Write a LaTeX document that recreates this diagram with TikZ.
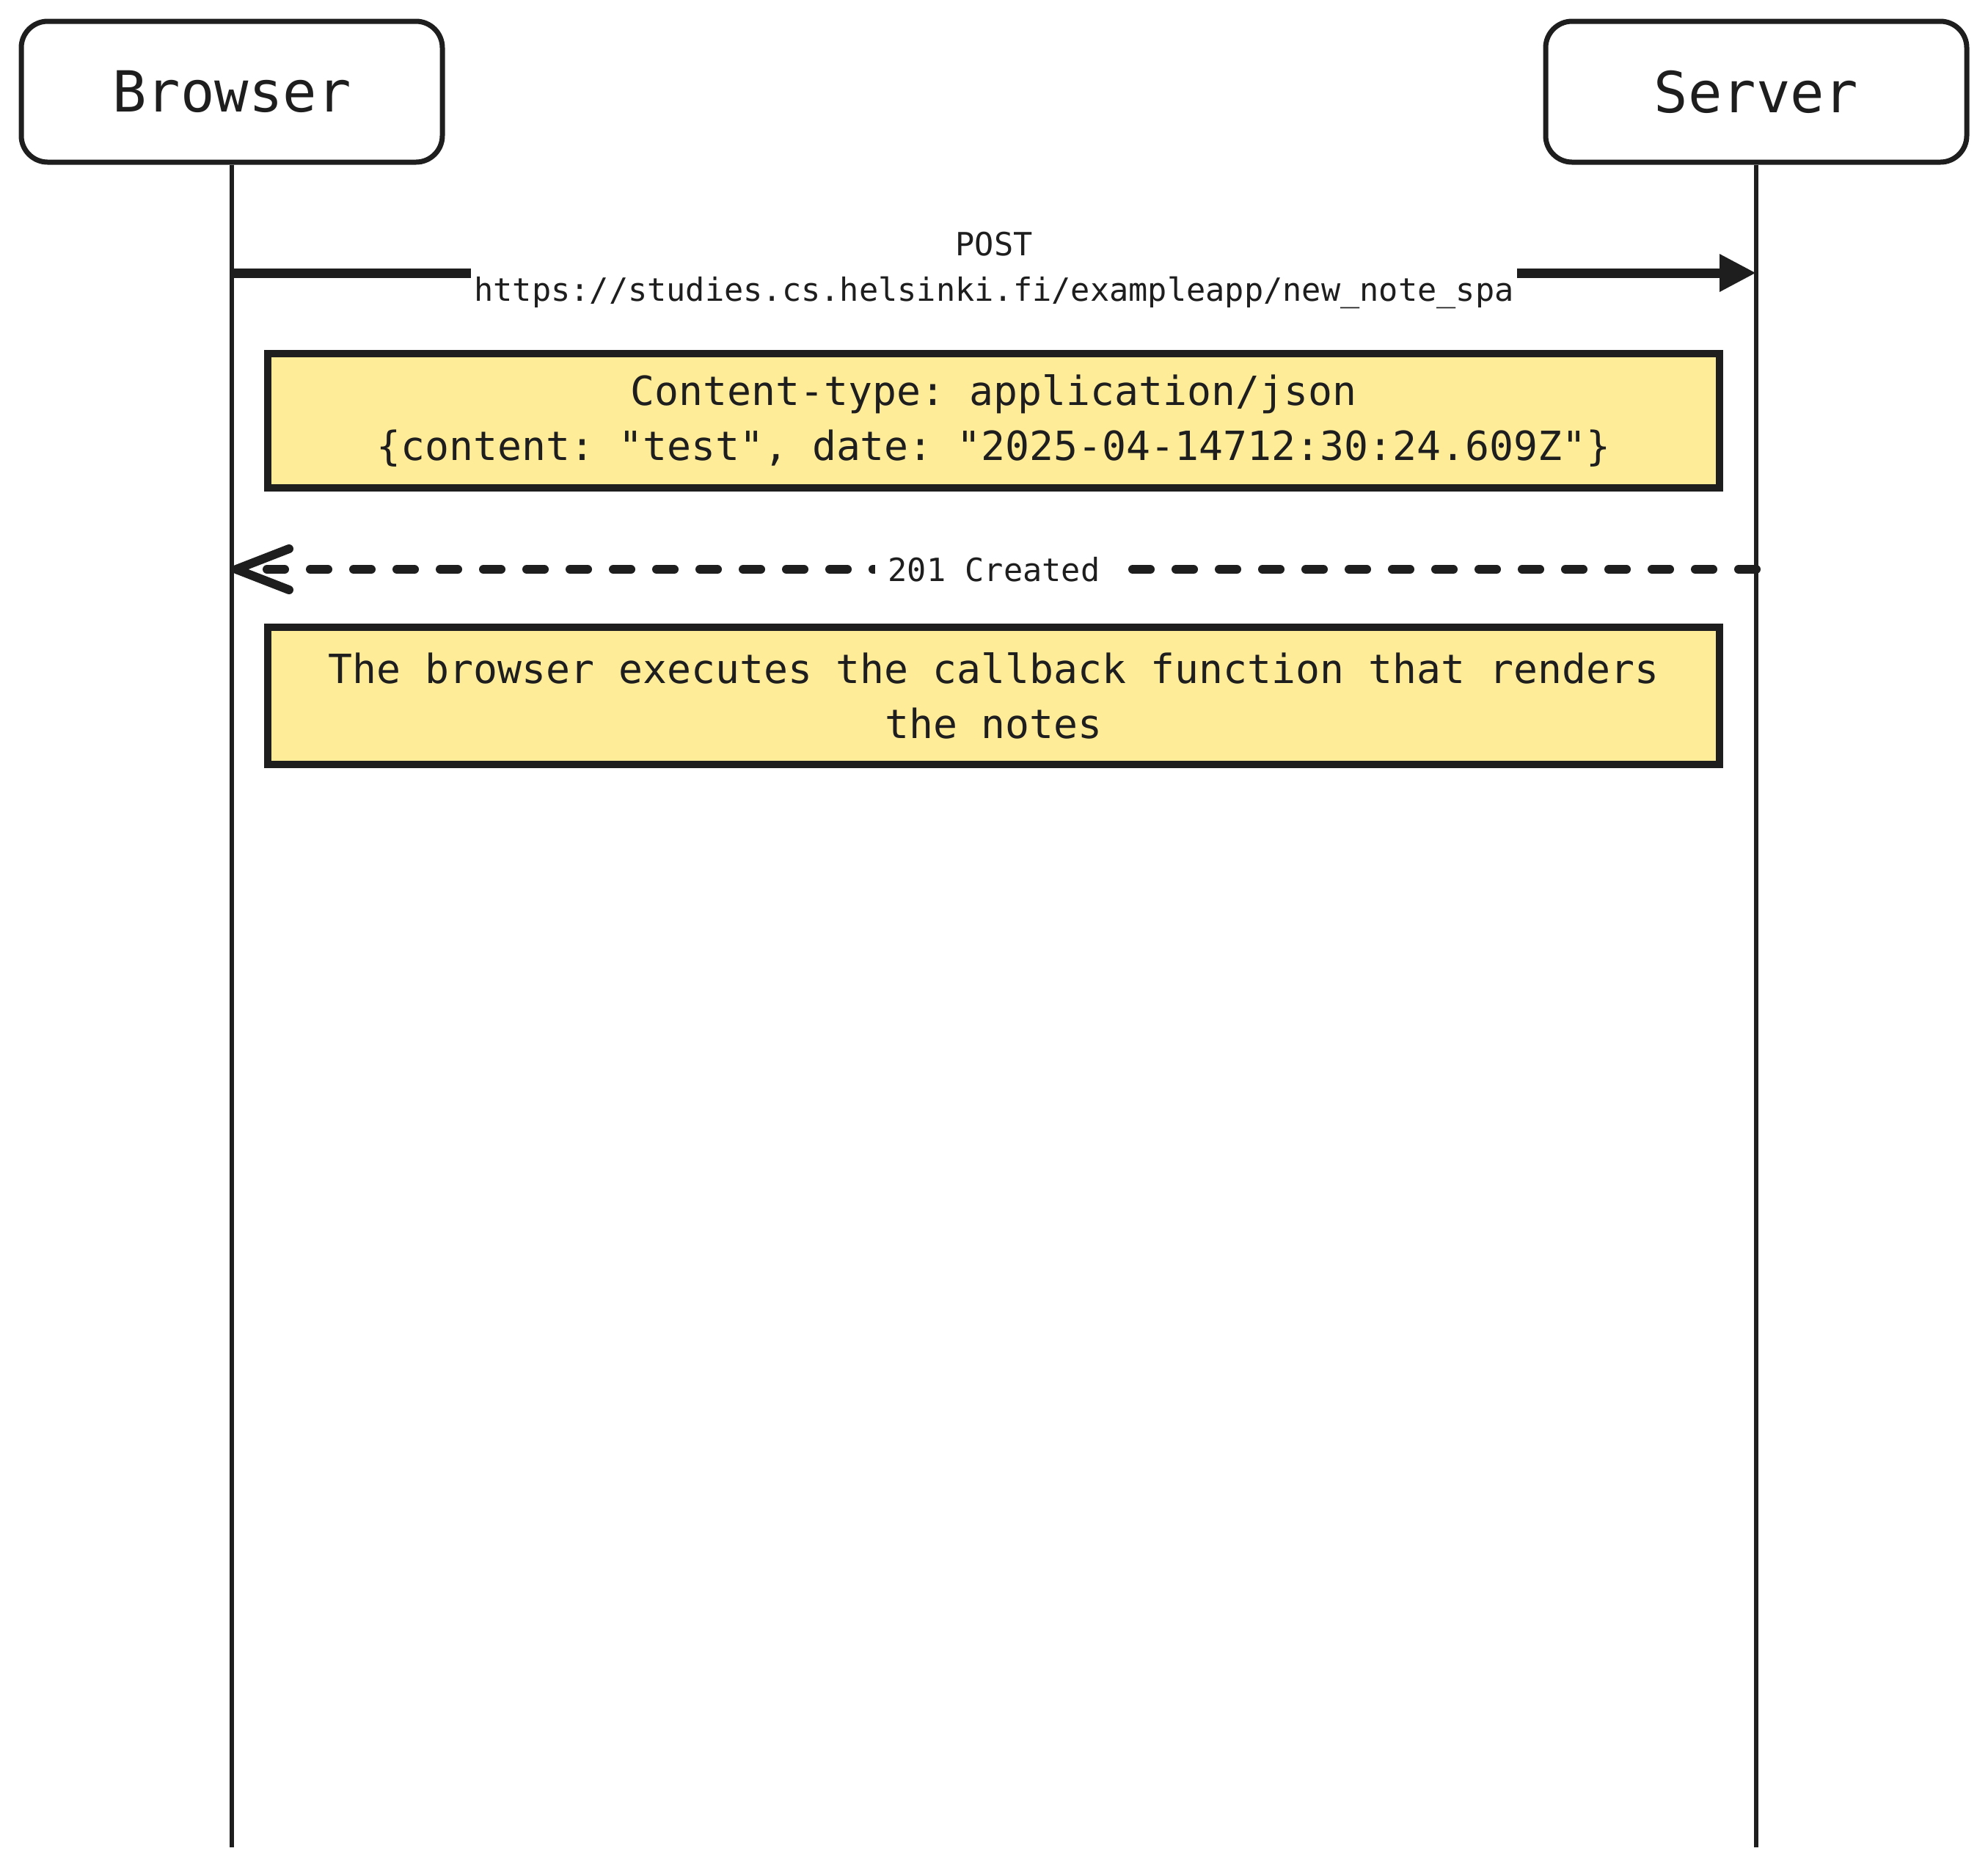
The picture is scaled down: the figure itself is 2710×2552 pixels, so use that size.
\documentclass[tikz,border=0pt]{standalone}
\usepackage{fontspec}
\setmonofont{DejaVu Sans Mono}
\usetikzlibrary{arrows.meta}
\definecolor{ink}{HTML}{1E1E1E}
\definecolor{noteyellow}{HTML}{FFEC99}
\begin{document}
\begin{tikzpicture}[x=0.25pt,y=-0.25pt,
  actor/.style={draw=ink, line width=1.75pt, rounded corners=9pt, fill=white,
    minimum width=143.5pt, minimum height=48pt, inner sep=0pt, text=ink,
    font=\fontsize{19.3}{23}\selectfont\ttfamily},
  notebox/.style={draw=ink, line width=2.5pt, fill=noteyellow, minimum width=494.75pt,
    inner sep=0pt, align=center, text=ink,
    font=\fontsize{13.7}{18.75}\selectfont\ttfamily},
  lifeline/.style={draw=ink, line width=1.5pt},
  msg/.style={draw=ink, line width=3.25pt, -{Triangle[length=12.5pt,width=12pt]}},
  reply/.style={draw=ink, line width=3pt, line cap=round, dash pattern=on 6pt off 8.75pt,
    -{Straight Barb[length=18pt,width=14pt,round]}},
  msglabel/.style={fill=white, text=ink, align=center, inner xsep=1pt, inner ysep=1pt,
    font=\fontsize{10.9}{15.5}\selectfont\ttfamily}
]
\useasboundingbox[fill=white] (0,0) rectangle (2710,2552);
% actors
\node[actor] (browser) at (316,125) {Browser};
\node[actor] (server) at (2394,125) {Server};
% lifeline ends
\coordinate (bend) at (316,2518);
\coordinate (send) at (2394,2518);
\draw[lifeline] (browser.south) -- (bend);
\draw[lifeline] (server.south) -- (send);
% message anchors
\coordinate (b1) at (316,372);
\coordinate (s1) at (2394,372);
\coordinate (b2) at (316,776);
\coordinate (s2) at (2394,776);
% POST request
\draw[msg] (b1) -- node[msglabel, yshift=1pt] {POST\\https://studies.cs.helsinki.fi/exampleapp/new\_note\_spa} (s1);
% note 1
\node[notebox, minimum height=45.75pt] (note1) at (1354.5,573.5)
  {Content-type: application/json\\\{content: "test", date: "2025-04-14712:30:24.609Z"\}};
% reply
\draw[reply] (s2) -- node[msglabel, inner xsep=4.5pt] {201 Created} (b2);
% note 2
\node[notebox, minimum height=46.75pt] (note2) at (1354.5,948.5)
  {The browser executes the callback function that renders\\the notes};
\end{tikzpicture}
\end{document}
